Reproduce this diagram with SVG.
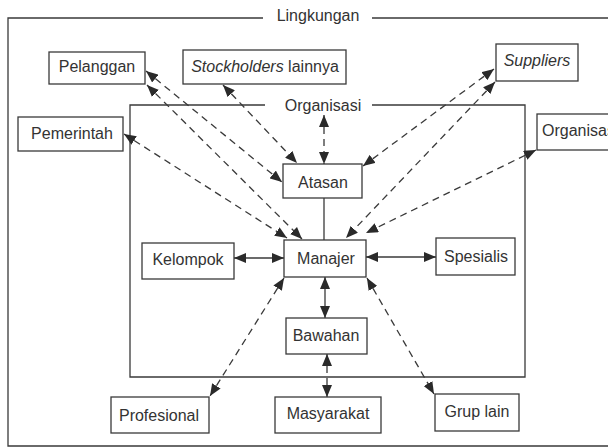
<svg xmlns="http://www.w3.org/2000/svg" width="608" height="448" viewBox="0 0 608 448">
<style>
.box{fill:#fff;stroke:#3a3a3a;stroke-width:1.3}
.frame{fill:none;stroke:#3a3a3a;stroke-width:1.3}
.t{font-family:"Liberation Sans",Arial,sans-serif;font-size:16px;fill:#333;text-anchor:middle}
.ts{font-family:"Liberation Sans",Arial,sans-serif;font-size:16px;fill:#333}
.c{fill:none;stroke:#3a3a3a;stroke-width:1.3}
.d{stroke-dasharray:7 5}
.a{marker-start:url(#ah);marker-end:url(#ah)}
</style>
<defs>
<marker id="ah" markerUnits="userSpaceOnUse" markerWidth="13" markerHeight="10" refX="12" refY="5" orient="auto-start-reverse">
<path d="M0,0 L12,5 L0,10 z" fill="#2a2a2a"/>
</marker>
</defs>
<rect width="608" height="448" fill="#fff"/>
<g id="lingkungan">
<path class="frame" d="M263,18 H8 V446 H610 M372,18 H610"/>
<text class="t" x="318" y="21">Lingkungan</text>
</g>
<g id="organisasi">
<path class="frame" d="M265,105 H130 V377 H525 V105 H372"/>
<text class="t" x="323" y="110.5">Organisasi</text>
</g>
<g id="connectors">
<path class="c d a" d="M146,71 L282,182"/>
<path class="c d a" d="M147,85 L302,239"/>
<path class="c d a" d="M223,85 L297,163"/>
<path class="c d a" d="M124,134 L287,238"/>
<path class="c d a" d="M324,115 L324,164"/>
<path class="c d a" d="M494,69 L363,166"/>
<path class="c d a" d="M495,82 L346,238"/>
<path class="c d a" d="M536,150 L366,233"/>
<path class="c a" d="M234,258 L284,258"/>
<path class="c a" d="M366,257 L436,257"/>
<path class="c" d="M324,198 L324,240"/>
<path class="c a" d="M325,277 L325,318"/>
<path class="c d a" d="M327,354 L327,397"/>
<path class="c d a" d="M284,278 L210,396"/>
<path class="c d a" d="M367,278 L434,394"/>
</g>
<g id="pelanggan"><rect class="box" x="49" y="52" width="96" height="32"/><text class="t" x="97" y="72">Pelanggan</text></g>
<g id="stockholders"><rect class="box" x="183" y="50" width="163" height="34"/><text class="t" x="265" y="72"><tspan font-style="italic">Stockholders</tspan> lainnya</text></g>
<g id="suppliers"><rect class="box" x="496" y="44" width="82" height="37"/><text class="t" x="537" y="66" font-style="italic">Suppliers</text></g>
<g id="pemerintah"><rect class="box" x="18" y="117" width="105" height="34"/><text class="t" x="72" y="138.5">Pemerintah</text></g>
<g id="organisasi-lain"><rect class="box" x="537" y="114" width="80" height="36"/><text class="ts" x="542" y="136">Organisasi</text></g>
<g id="atasan"><rect class="box" x="283" y="164" width="79" height="34"/><text class="t" x="323" y="187.5">Atasan</text></g>
<g id="manajer"><rect class="box" x="284" y="240" width="82" height="37"/><text class="t" x="326" y="264">Manajer</text></g>
<g id="kelompok"><rect class="box" x="142" y="243" width="92" height="36"/><text class="t" x="188" y="265">Kelompok</text></g>
<g id="spesialis"><rect class="box" x="436" y="238" width="79" height="37"/><text class="t" x="476" y="261.5">Spesialis</text></g>
<g id="bawahan"><rect class="box" x="286" y="318" width="81" height="36"/><text class="t" x="326" y="341">Bawahan</text></g>
<g id="profesional"><rect class="box" x="111" y="397" width="98" height="36"/><text class="t" x="159" y="420.5">Profesional</text></g>
<g id="masyarakat"><rect class="box" x="275" y="397" width="106" height="36"/><text class="t" x="328" y="419">Masyarakat</text></g>
<g id="gruplain"><rect class="box" x="435" y="394" width="84" height="37"/><text class="t" x="477" y="417">Grup lain</text></g>
</svg>
